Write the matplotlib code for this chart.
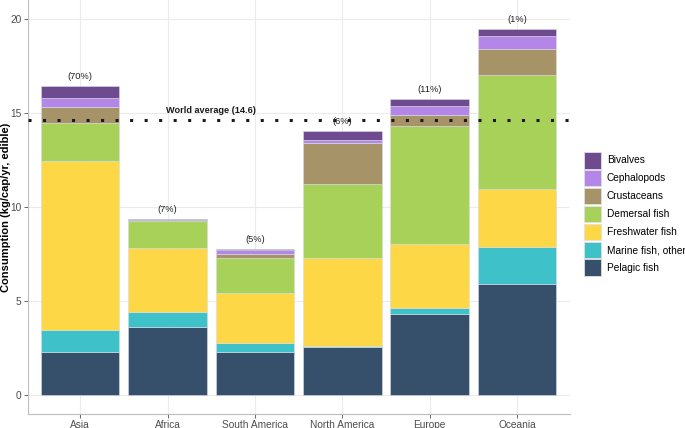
import numpy as np
import matplotlib
matplotlib.use("Agg")
import matplotlib.pyplot as plt
from matplotlib.patches import Patch

plt.rcParams['font.family'] = ['Liberation Sans', 'DejaVu Sans']

# --- Data (kg/cap/yr, edible) ---
regions = ['Asia', 'Africa', 'South America', 'North America', 'Europe', 'Oceania']
shares = ['(70%)', '(7%)', '(5%)', '(6%)', '(11%)', '(1%)']

# stacked from bottom to top
pelagic = [2.27, 3.63, 2.30, 2.57, 4.29, 5.90]
marine_other = [1.20, 0.78, 0.45, 0.03, 0.35, 2.00]
freshwater = [8.99, 3.41, 2.69, 4.70, 3.41, 3.07]
demersal = [2.02, 1.41, 1.83, 3.94, 6.24, 6.07]
crustaceans = [0.83, 0.07, 0.25, 2.16, 0.62, 1.33]
cephalopods = [0.49, 0.03, 0.17, 0.16, 0.48, 0.74]
bivalves = [0.64, 0.03, 0.08, 0.50, 0.37, 0.37]

world_avg = 14.6

series = [
    ('Pelagic fish', pelagic, '#36506B'),
    ('Marine fish, other', marine_other, '#3EC1C9'),
    ('Freshwater fish', freshwater, '#FDD745'),
    ('Demersal fish', demersal, '#A8D15A'),
    ('Crustaceans', crustaceans, '#A69368'),
    ('Cephalopods', cephalopods, '#B386E8'),
    ('Bivalves', bivalves, '#6E4A8E'),
]

# --- Plot ---
fig = plt.figure(figsize=(6.85, 4.28), dpi=100)
ax = fig.add_axes([0.0404, 0.0327, 0.7910, 0.9673])

x = np.arange(1, len(regions) + 1)
bottom = np.zeros(len(regions))
for name, vals, col in series:
    ax.bar(x, vals, width=0.9, bottom=bottom, color=col,
           edgecolor='#d9dde3', linewidth=0.4, zorder=2)
    bottom += np.array(vals)

for xi, top, s in zip(x, bottom, shares):
    ax.text(xi, top + 0.5, s, ha='center', va='center', fontsize=6.7,
            color='#222222', zorder=4)

ax.axhline(world_avg, color='#1a1a1a', linewidth=2.2, dashes=(1, 3.75),
           dash_capstyle='butt', zorder=3)
ax.text(2.5, world_avg + 0.55, 'World average (14.6)', ha='center', va='center',
        fontsize=6.6, fontweight='bold', color='#1a1a1a', zorder=4)

ax.set_xlim(0.4, 6.6)
ax.set_ylim(-1.0, 21.0)
ax.set_xticks(x)
ax.set_xticklabels(regions)
ax.set_yticks([0, 5, 10, 15, 20])
ax.set_ylabel('Consumption (kg/cap/yr, edible)', fontsize=8, fontweight='bold')
ax.yaxis.set_label_coords(-0.031, 0.5)

ax.grid(True, color='#ebebeb', linewidth=0.8, zorder=0)
ax.set_axisbelow(True)
for side in ['top', 'right']:
    ax.spines[side].set_visible(False)
for side in ['left', 'bottom']:
    ax.spines[side].set_color('#bdbdbd')
    ax.spines[side].set_linewidth(0.8)
ax.tick_params(axis='both', labelsize=7.3, labelcolor='#4d4d4d', color='#4d4d4d',
               length=3, width=0.6, pad=1.5)

handles = [Patch(facecolor=col, edgecolor='#e0e0e0', linewidth=0.6, label=name)
           for name, vals, col in series[::-1]]
fig.legend(handles=handles, loc='center left', bbox_to_anchor=(0.852, 0.50),
           frameon=False, fontsize=7.3, handlelength=1.68, handleheight=2.2,
           labelspacing=0.1, handletextpad=0.6, borderaxespad=0, borderpad=0)

fig.savefig('out.png', dpi=100)
